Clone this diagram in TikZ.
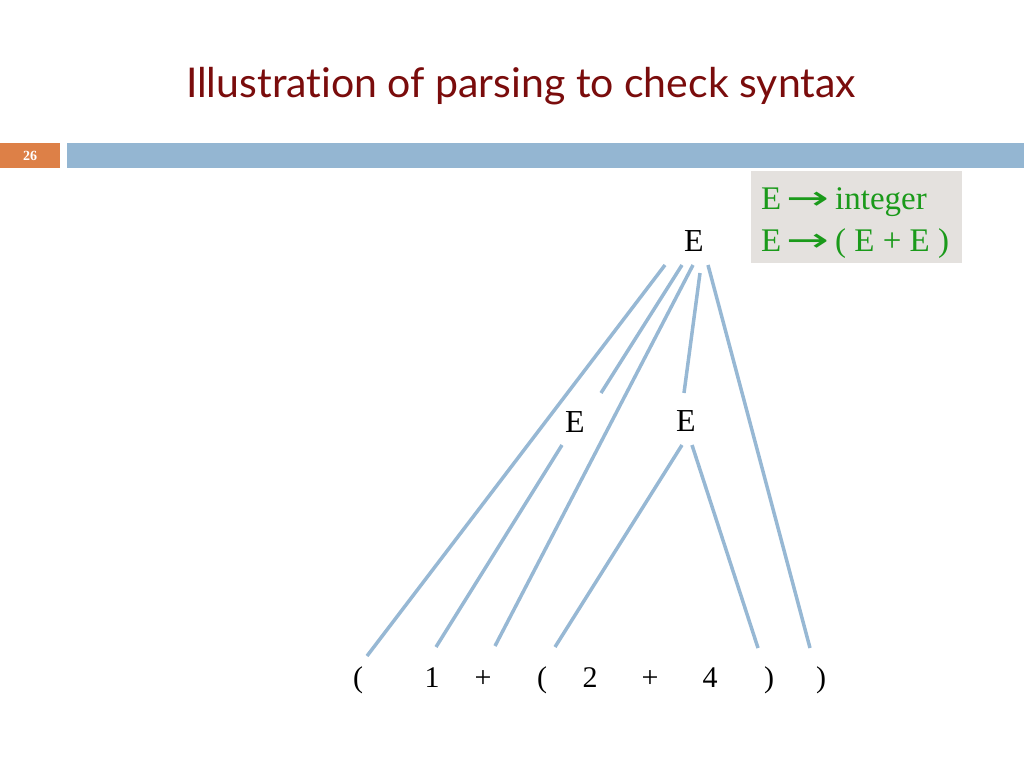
\documentclass[tikz,border=0pt]{standalone}
\usepackage{fontspec}
\usepackage{graphicx}
\setmainfont{Liberation Serif}
\newfontfamily\titlefont[Ligatures=NoCommon]{Lato}
\newfontfamily\arrowfont{DejaVu Sans}
\definecolor{titlered}{HTML}{7A0C0C}
\definecolor{barblue}{HTML}{94B6D2}
\definecolor{barorange}{HTML}{DD8047}
\definecolor{rulegreen}{HTML}{1A9A1A}
\definecolor{rulegrey}{HTML}{E4E1DE}
\definecolor{edgeblue}{HTML}{97B8D4}
\newcommand{\prodarrow}{\,\scalebox{1.55}[1]{\arrowfont →}\,}
\begin{document}
\begin{tikzpicture}[x=1pt,y=-1pt,
	sym/.style={anchor=base,inner sep=0pt,font=\fontsize{30}{30}\selectfont},
	nonterm/.style={sym,font=\fontsize{32}{32}\selectfont},
	rule/.style={sym,anchor=base west,rulegreen,font=\fontsize{33}{33}\selectfont},
	edge/.style={edgeblue,line width=3.5pt}]
	\useasboundingbox (0,0) rectangle (1024,768);
	% title and header bar
	\node[anchor=base,titlered,font=\titlefont\fontsize{41}{44}\selectfont] (title) at (521,97) {Illustration of parsing to check syntax};
	\fill[barorange] (0,143) rectangle (60,168);
	\fill[barblue] (67,143) rectangle (1024,168);
	\node[white,font=\bfseries\fontsize{14}{14}\selectfont] (page) at (30,155.5) {26};
	% grammar
	\fill[rulegrey] (751,171) rectangle (962,263);
	\node[rule] (ruleA) at (761,209) {E\prodarrow integer};
	\node[rule] (ruleB) at (761,251) {E\prodarrow( E + E )};
	% parse tree
	\node[nonterm] (eTop) at (694,251) {E};
	\node[nonterm] (eL) at (575,432) {E};
	\node[nonterm] (eR) at (686,431) {E};
	\node[sym] (lpA) at (358,687) {(};
	\node[sym] (one) at (432,687) {1};
	\node[sym] (plusA) at (483,687) {+};
	\node[sym] (lpB) at (542,687) {(};
	\node[sym] (two) at (590,687) {2};
	\node[sym] (plusB) at (650,687) {+};
	\node[sym] (four) at (710,687) {4};
	\node[sym] (rpA) at (769,687) {)};
	\node[sym] (rpB) at (821,687) {)};
	\foreach \a/\p/\b/\q in {eTop/{-29,14}/lpA/{9,-31}, eTop/{-12,14}/eL/{26,-39},
		eTop/{-1,14}/plusA/{12,-41}, eTop/{6,22}/eR/{-2,-38}, eTop/{14,14}/rpB/{-11,-39},
		eL/{-13,13}/one/{4,-40}, eR/{-4,14}/lpB/{13,-40}, eR/{6,14}/rpA/{-11,-39}}
		\draw[edge] ([shift={(\p)}]\a.base) -- ([shift={(\q)}]\b.base);
\end{tikzpicture}
\end{document}
